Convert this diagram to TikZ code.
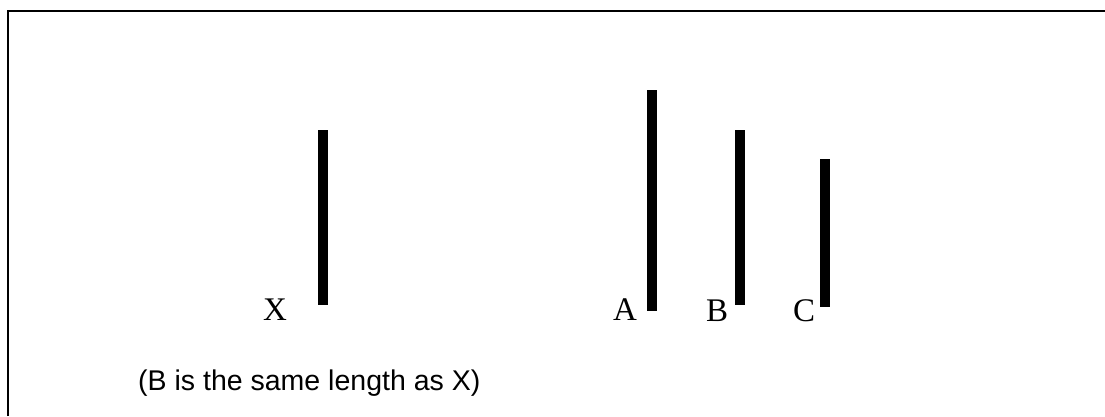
\documentclass[tikz,border=0pt]{standalone}
\usepackage{fontspec}
\setmainfont{Liberation Serif}
\newfontfamily\notefont{Liberation Sans}
\begin{document}
\begin{tikzpicture}[x=1pt,y=-1pt,
  bar/.style={fill=black,draw=none,inner sep=0pt,minimum width=10pt},
  lbl/.style={inner sep=0pt,anchor=base,font=\fontsize{33}{36}\selectfont},
  note/.style={inner sep=0pt,anchor=base west,font=\notefont\fontsize{28.5}{31}\selectfont}]
\useasboundingbox (0,0) rectangle (1105,416);
\fill[white] (0,0) rectangle (1105,416);
% frame (left and top edges visible)
\draw[line width=2.5pt] (8,416) -- (8,11) -- (1105,11);
% bars
\node[bar,anchor=north,minimum height=175pt] (barX) at (323,130) {};
\node[bar,anchor=north,minimum height=221pt] (barA) at (652,90) {};
\node[bar,anchor=north,minimum height=175pt] (barB) at (740,130) {};
\node[bar,anchor=north,minimum height=148pt] (barC) at (825,159) {};
% labels
\node[lbl] (lX) at (275,320) {X};
\node[lbl] (lA) at (625,320) {A};
\node[lbl] (lB) at (717,321) {B};
\node[lbl] (lC) at (804,321) {C};
% note
\node[note] (note) at (138,390) {(B is the same length as X)};
\end{tikzpicture}
\end{document}
